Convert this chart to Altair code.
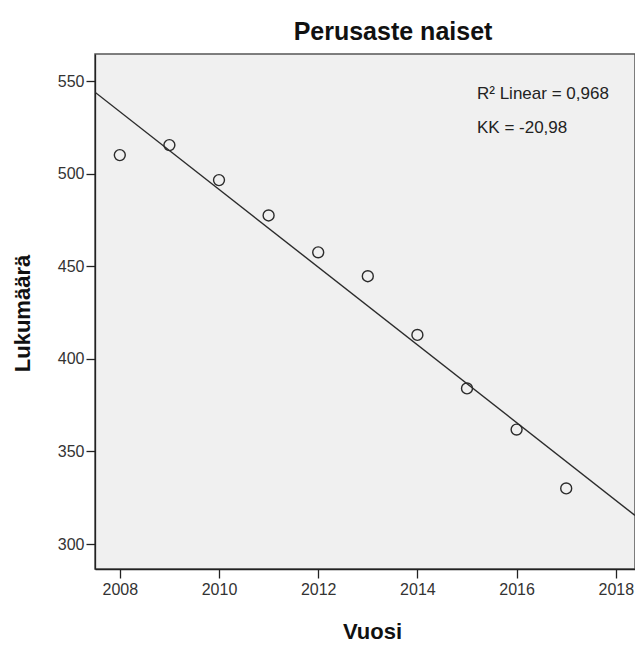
import altair as alt
import pandas as pd

years = [2008, 2009, 2010, 2011, 2012, 2013, 2014, 2015, 2016, 2017]
counts = [510.0, 515.4, 496.5, 477.4, 457.5, 444.6, 412.9, 384.0, 361.8, 330.0]
x_ticks = [2008, 2010, 2012, 2014, 2016, 2018]
y_ticks = [300, 350, 400, 450, 500, 550]
annot_r2 = "R² Linear = 0,968"
annot_kk = "KK = -20,98"

df = pd.DataFrame({"Vuosi": years, "Lukumäärä": counts})

FONT = "Liberation Sans"
W, H = 540, 515
PX_PER_YEAR = 49.6
xdom = [2007.5, 2007.5 + W / PX_PER_YEAR]
ydom = [286.5, 564.6]

xenc = alt.X(
    "Vuosi:Q",
    scale=alt.Scale(domain=xdom, nice=False, zero=False),
    axis=alt.Axis(values=x_ticks, format="d", title="Vuosi", grid=False,
                  tickSize=9, labelPadding=3, titleX=277, titleY=62,
                  titleBaseline="middle"),
)
yenc = alt.Y(
    "Lukumäärä:Q",
    scale=alt.Scale(domain=ydom, nice=False, zero=False),
    axis=alt.Axis(values=y_ticks, title="Lukumäärä", grid=False,
                  tickSize=9, labelPadding=2, titleX=-73, titleY=259,
                  titleBaseline="middle"),
)

base = alt.Chart(df)

points = base.mark_point(shape="circle", filled=False, size=120,
                         stroke="#2b2b2b", strokeWidth=1.4, opacity=1).encode(x=xenc, y=yenc)

line = base.transform_regression("Vuosi", "Lukumäärä", extent=xdom).mark_line(
    color="#2b2b2b", strokeWidth=1.4, clip=True
).encode(x=xenc, y=yenc)

t1 = alt.Chart(pd.DataFrame({"t": [annot_r2]})).mark_text(
    align="left", baseline="middle", font=FONT, fontSize=17, color="#222"
).encode(text="t:N", x=alt.value(382), y=alt.value(40))
t2 = alt.Chart(pd.DataFrame({"t": [annot_kk]})).mark_text(
    align="left", baseline="middle", font=FONT, fontSize=17, color="#222"
).encode(text="t:N", x=alt.value(382), y=alt.value(74))

chart = alt.layer(line, points, t1, t2).properties(
    width=W, height=H,
    title=alt.TitleParams("Perusaste naiset", font=FONT, fontSize=25, fontWeight="bold",
                          anchor="middle", offset=9, dx=28, color="#111"),
    autosize=alt.AutoSizeParams(type="none"),
    padding={"left": 87, "top": 46, "right": 0, "bottom": 78},
).configure_view(
    fill="#f0f0f0", stroke="#555", strokeWidth=1.5
).configure_axis(
    domainColor="#222", tickColor="#222", domainWidth=1.3, tickWidth=1.3,
    labelFont=FONT, labelFontSize=16, labelColor="#333",
    titleFont=FONT, titleFontSize=22, titleFontWeight="bold", titleColor="#111",
)

chart.save("out.html", embed_options={"renderer": "svg", "actions": False})
